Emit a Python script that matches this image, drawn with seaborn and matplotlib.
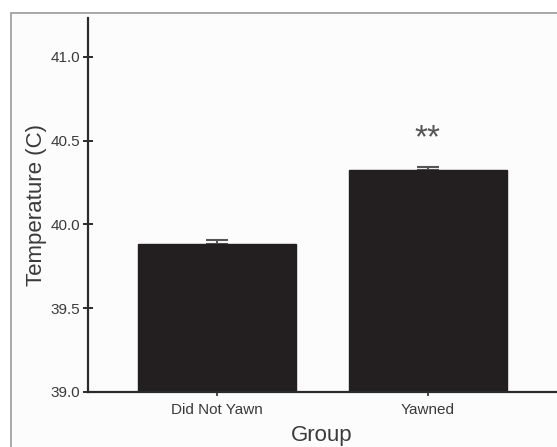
import matplotlib
matplotlib.use("Agg")
import matplotlib.pyplot as plt
from matplotlib.patches import Rectangle
import seaborn as sns
import pandas as pd

# Mean core temperature by group, with standard error (upper whisker only)
groups = ["Did Not Yawn", "Yawned"]
mean_temp = [39.88, 40.325]
sem_temp = [0.025, 0.015]
y_ticks = [39.0, 39.5, 40.0, 40.5, 41.0]
significance = ["", "**"]

sns.set_theme(style="white")
plt.rcParams["font.family"] = ["Liberation Sans", "DejaVu Sans"]

ink = "#2b2b2b"
text_col = "#3a3a3a"

fig = plt.figure(figsize=(5.57, 4.47), dpi=100)
fig.patch.set_facecolor("white")

# Panel frame with light fill
fig.patches.append(Rectangle((10.5 / 557, -0.05), 1.2, 1 - 12.5 / 447 + 0.05,
                             transform=fig.transFigure, facecolor="#fcfcfc",
                             edgecolor="#9a9a9a", linewidth=1.2, zorder=-5))

ax = fig.add_axes([88 / 557, 1 - 392 / 447, (556 - 88) / 557, (392 - 18) / 447])
ax.set_facecolor("none")

df = pd.DataFrame({"Group": groups, "Temperature": mean_temp})
sns.barplot(data=df, x="Group", y="Temperature", color="#231f20",
            saturation=1, width=0.75, errorbar=None, ax=ax, zorder=2)
for p in ax.patches:
    p.set_edgecolor("#231f20")

xs = list(range(len(groups)))
ax.errorbar(xs, mean_temp, yerr=[[0] * len(groups), sem_temp], fmt="none",
            ecolor="#555555", elinewidth=1.4, capsize=8, capthick=1.5, zorder=1)

for x, m, e, s in zip(xs, mean_temp, sem_temp, significance):
    if s:
        ax.text(x, m + e + 0.12, s, ha="center", va="baseline",
                fontsize=24, color="#555555")

ax.set_ylim(39.0, 41.231)
ax.set_xlim(-0.61, 1.607)
ax.set_yticks(y_ticks)
ax.set_yticklabels([f"{t:.1f}" for t in y_ticks])

for side in ("top", "right"):
    ax.spines[side].set_visible(False)
for side in ("left", "bottom"):
    ax.spines[side].set_color(ink)
    ax.spines[side].set_linewidth(1.6)

ax.tick_params(axis="y", direction="inout", length=7, width=1.4, color=ink,
               labelsize=11, labelcolor=text_col, pad=2)
ax.tick_params(axis="x", direction="inout", length=6, width=1.2, color=ink,
               labelsize=11, labelcolor=text_col, pad=5)
ax.tick_params(left=True, bottom=True)

ax.set_xlabel("Group", fontsize=16, color=text_col, labelpad=6)
ax.set_ylabel("Temperature (C)", fontsize=16, color=text_col, labelpad=3)

fig.savefig("out.png", dpi=100)
